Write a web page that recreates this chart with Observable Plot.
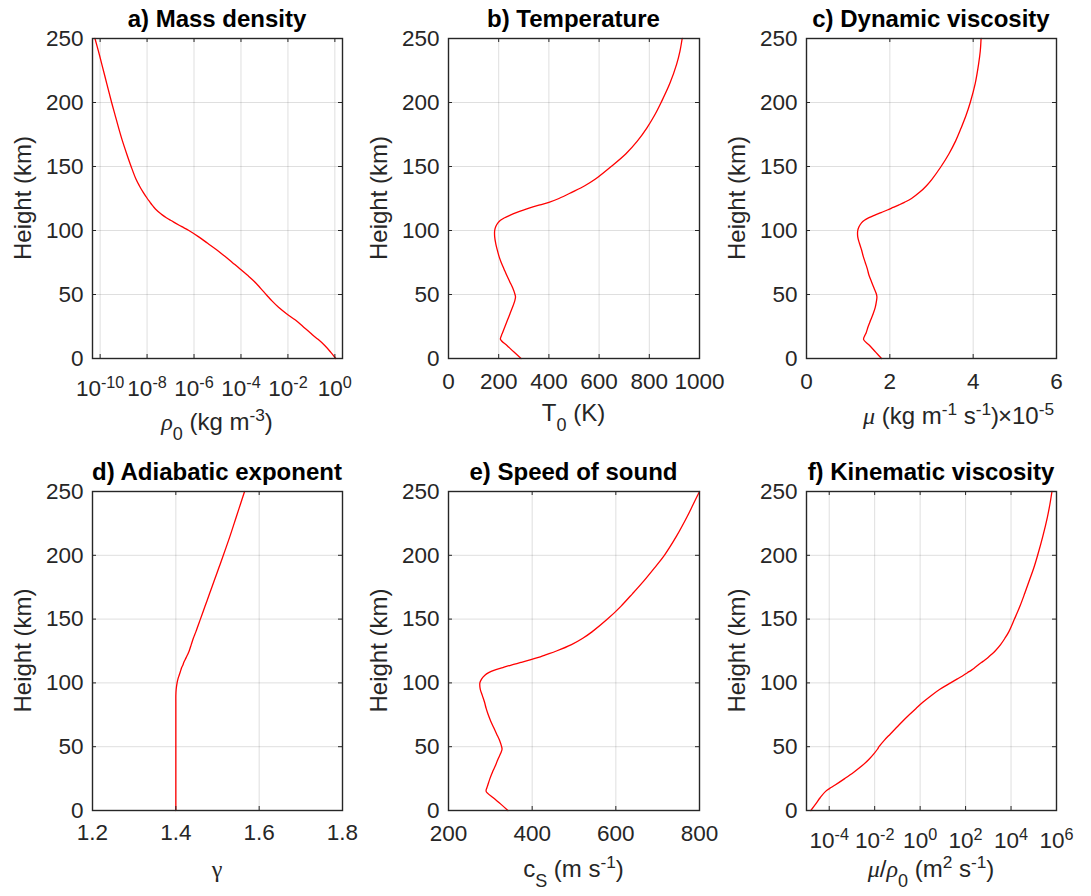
<!DOCTYPE html>
<html>
<head>
<meta charset="utf-8">
<script src="https://cdn.jsdelivr.net/npm/d3@7"></script>
<script src="https://cdn.jsdelivr.net/npm/@observablehq/plot@0.6"></script>
<style>
  body { margin: 0; background: #fff; }
  #fig { position: relative; width: 1091px; height: 896px; overflow: hidden; background: #fff;
         font-family: "Liberation Sans", Arial, Helvetica, sans-serif; }
  #fig svg { position: absolute; overflow: visible; }
</style>
</head>
<body>
<div id="fig"></div>
<script>
// ---------------- data ----------------
const heights = [0,5,10,15,18,20,25,30,35,40,45,48,50,55,60,65,70,75,80,85,90,95,100,103,106,108,110,112,114,116,118,120,122,125,130,135,140,150,160,170,180,190,200,215,230,240,250];

// a) mass density, log10(kg m^-3)
const rhoLog10 = [0.04,-0.18,-0.42,-0.72,-0.92,-1.04,-1.36,-1.68,-2.06,-2.40,-2.68,-2.83,-2.93,-3.17,-3.42,-3.72,-4.04,-4.37,-4.70,-5.04,-5.42,-5.80,-6.22,-6.52,-6.81,-7.00,-7.18,-7.34,-7.48,-7.60,-7.70,-7.79,-7.87,-7.99,-8.17,-8.33,-8.47,-8.68,-8.87,-9.05,-9.21,-9.36,-9.51,-9.72,-9.93,-10.07,-10.22];
// b) temperature, K
const tempK = [289,261,234,207,211,215,225,235,245,255,264,267,265,256,244,232,221,210,201,194,188,184,184,188,197,207,224,246,270,298,330,365,400,440,493,543,584,648,707,753,790,821,847,882,909,922,931];
// c) dynamic viscosity, 1e-5 kg m^-1 s^-1
const muE5 = [1.80,1.66,1.52,1.37,1.40,1.43,1.48,1.54,1.60,1.65,1.68,1.69,1.68,1.62,1.56,1.50,1.46,1.41,1.36,1.32,1.27,1.23,1.23,1.26,1.32,1.39,1.50,1.64,1.79,1.94,2.08,2.22,2.35,2.52,2.72,2.88,3.01,3.23,3.42,3.58,3.71,3.83,3.93,4.05,4.13,4.17,4.19];
// d) adiabatic exponent
const gammaVals = [1.4,1.4,1.4,1.4,1.4,1.4,1.4,1.4,1.4,1.4,1.4,1.4,1.4,1.4,1.4,1.4,1.4,1.4,1.4,1.4,1.4,1.4008,1.403,1.405,1.408,1.410,1.412,1.414,1.417,1.419,1.422,1.425,1.428,1.432,1.437,1.442,1.448,1.459,1.470,1.481,1.492,1.503,1.514,1.530,1.545,1.555,1.565];
// e) speed of sound, m s^-1
const soundSpeed = [342,325,307,290,292,294,299,305,312,318,325,328,327,322,315,308,301,295,290,286,281,276,275,279,287,296,310,330,350,373,395,415,432,458,494,521,543,580,612,640,667,692,716,745,770,785,800];
// f) kinematic viscosity, log10(m^2 s^-1)
const nuLog10 = [-4.81,-4.60,-4.40,-4.16,-3.92,-3.74,-3.32,-2.92,-2.56,-2.26,-2.01,-1.88,-1.81,-1.58,-1.31,-1.04,-0.77,-0.48,-0.18,0.13,0.48,0.87,1.34,1.62,1.91,2.08,2.26,2.41,2.55,2.70,2.85,2.99,3.12,3.30,3.54,3.73,3.90,4.15,4.39,4.60,4.80,5.00,5.17,5.40,5.60,5.71,5.80];

// tick values
const yTicks = [0,50,100,150,200,250];
const rhoTicks = [1e-10,1e-8,1e-6,1e-4,1e-2,1];
const tempTicks = [0,200,400,600,800,1000];
const muTicks = [0,2,4,6];
const gammaTicks = [1.2,1.4,1.6,1.8];
const soundTicks = [200,400,600,800];
const nuTicks = [1e-4,1e-2,1,1e2,1e4,1e6];

// titles and labels
const titles = ["a) Mass density","b) Temperature","c) Dynamic viscosity","d) Adiabatic exponent","e) Speed of sound","f) Kinematic viscosity"];
const xLabels = ["ρ_{0} (kg m^{-3})","T_{0} (K)","μ (kg m^{-1} s^{-1})","γ","c_{S} (m s^{-1})","μ/ρ_{0} (m^{2} s^{-1})"];
const yLabel = "Height (km)";
const muExponent = "×10^{-5}";

// ---------------- rendering ----------------
const FONT = '"Liberation Sans", Arial, Helvetica, sans-serif';
const INK = "#262626";
const TICK_FS = 22.5, LABEL_FS = 24;
const GREEK = /[\u0370-\u03FF\u00B5]/;

function setRich(el, str, fs) {
  const t = d3.select(el);
  t.text(null);
  const parts = str.split(/(\^\{[^}]*\}|_\{[^}]*\})/).filter(s => s.length);
  let off = 0;
  for (const p of parts) {
    let target = 0, size = fs, txt = p;
    if (p.startsWith("^{")) { target = 0.36 * fs; size = 0.72 * fs; txt = p.slice(2, -1); }
    else if (p.startsWith("_{")) { target = -0.42 * fs; size = 0.75 * fs; txt = p.slice(2, -1); }
    const chunks = txt.split(/([\u0370-\u03FF\u00B5]+)/).filter(s => s.length);
    chunks.forEach((c, j) => {
      const ts = t.append("tspan").attr("font-size", size).text(c);
      if (j === 0 && target !== off) { ts.attr("dy", off - target); off = target; }
      if (GREEK.test(c)) {
        ts.attr("font-family", '"Liberation Serif", "DejaVu Serif", serif');
        if (c !== "γ") ts.attr("font-style", "italic");
      }
    });
  }
}

const logFmt = d => `10^{${Math.round(Math.log10(d))}}`;

const cols = [{left: 92, right: 342}, {left: 448, right: 699}, {left: 806, right: 1056}];
const rows = [{top: 38, bottom: 358}, {top: 491, bottom: 810}];

const panels = [
  {col: 0, row: 0, values: rhoLog10.map(v => 10 ** v), type: "log", domain: [10 ** -10.325, 10 ** 0.325], ticks: rhoTicks, fmt: logFmt, pad: 22, labelOff: 72},
  {col: 1, row: 0, values: tempK, type: "linear", domain: [0, 1000], ticks: tempTicks, fmt: d => String(d), pad: 15, labelOff: 63},
  {col: 2, row: 0, values: muE5, type: "linear", domain: [0, 6], ticks: muTicks, fmt: d => String(d), pad: 15, labelOff: 66, exponent: muExponent},
  {col: 0, row: 1, values: gammaVals, type: "linear", domain: [1.2, 1.8], ticks: gammaTicks, fmt: d => d.toFixed(1), pad: 14, labelOff: 67},
  {col: 1, row: 1, values: soundSpeed, type: "linear", domain: [200, 800], ticks: soundTicks, fmt: d => String(d), pad: 15, labelOff: 67},
  {col: 2, row: 1, values: nuLog10.map(v => 10 ** v), type: "log", domain: [1e-5, 1e6], ticks: nuTicks, fmt: logFmt, pad: 22, labelOff: 67}
];

const fig = document.getElementById("fig");
const mL = 92, mT = 38, mR = 36;

panels.forEach((p, i) => {
  const c = cols[p.col], r = rows[p.row];
  const fw = c.right - c.left, fh = r.bottom - r.top;
  const mB = p.row === 0 ? 90 : 86;
  const data = heights.map((h, k) => ({h, v: p.values[k]}));
  const tl = 4;
  const svg = Plot.plot({
    width: fw + mL + mR,
    height: fh + mT + mB,
    marginLeft: mL, marginRight: mR, marginTop: mT, marginBottom: mB,
    style: {background: "transparent", fontFamily: FONT, color: INK, overflow: "visible"},
    x: {type: p.type, domain: p.domain},
    y: {domain: [0, 250]},
    marks: [
      Plot.gridX(p.ticks, {stroke: INK, strokeOpacity: 0.15, strokeWidth: 1}),
      Plot.gridY(yTicks, {stroke: INK, strokeOpacity: 0.15, strokeWidth: 1}),
      Plot.line(data, {x: "v", y: "h", stroke: "#ff0000", strokeWidth: 1.3, curve: "catmull-rom"}),
      Plot.tickX(p.ticks, {x: d => d, insetTop: fh - tl, stroke: INK, strokeWidth: 1}),
      Plot.tickX(p.ticks, {x: d => d, insetBottom: fh - tl, stroke: INK, strokeWidth: 1}),
      Plot.tickY(yTicks, {y: d => d, insetRight: fw - tl, stroke: INK, strokeWidth: 1}),
      Plot.tickY(yTicks, {y: d => d, insetLeft: fw - tl, stroke: INK, strokeWidth: 1}),
      Plot.frame({stroke: INK, strokeWidth: 1.4}),
      Plot.axisX(p.ticks, {tickSize: 0, tickPadding: p.pad, fontSize: TICK_FS, label: null, tickFormat: p.fmt, fill: INK}),
      Plot.axisY(yTicks, {tickSize: 0, tickPadding: 9, fontSize: TICK_FS, label: null, fill: INK})
    ]
  });
  svg.style.left = (c.left - mL) + "px";
  svg.style.top = (r.top - mT) + "px";
  fig.appendChild(svg);

  const s = d3.select(svg);
  s.selectAll('g[aria-label="x-axis tick label"] text').each(function () {
    const str = this.textContent;
    if (/[\^_]/.test(str)) setRich(this, str, TICK_FS);
  });

  // title
  s.append("text")
    .attr("x", mL + fw / 2).attr("y", mT - 11)
    .attr("text-anchor", "middle").attr("font-size", LABEL_FS).attr("font-weight", "bold")
    .attr("fill", "#000").attr("font-family", FONT)
    .text(titles[i]);

  // y label
  s.append("text")
    .attr("transform", `translate(${mL - 61},${mT + fh / 2}) rotate(-90)`)
    .attr("text-anchor", "middle").attr("font-size", LABEL_FS).attr("fill", INK).attr("font-family", FONT)
    .text(yLabel);

  // x label
  const xl = s.append("text")
    .attr("x", mL + fw / 2).attr("y", mT + fh + p.labelOff)
    .attr("text-anchor", "middle").attr("font-size", LABEL_FS).attr("fill", INK).attr("font-family", FONT);
  setRich(xl.node(), xLabels[i], LABEL_FS);

  if (p.exponent) {
    const ex = s.append("text")
      .attr("x", mL + fw - 2).attr("y", mT + fh + p.labelOff)
      .attr("text-anchor", "end").attr("font-size", LABEL_FS).attr("fill", INK).attr("font-family", FONT);
    setRich(ex.node(), p.exponent, LABEL_FS);
  }
});
</script>
</body>
</html>
